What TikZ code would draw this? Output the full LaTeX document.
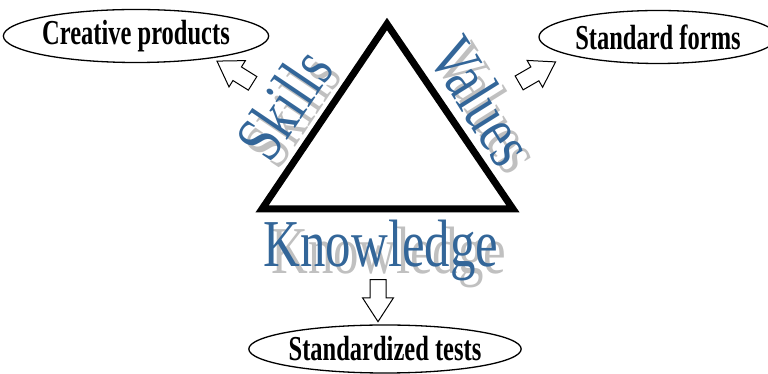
\documentclass[tikz,border=0pt]{standalone}
\usepackage{fontspec}
\setmainfont{Liberation Serif}
\newfontfamily\wordfont[FakeStretch=0.76]{Liberation Serif}
\newfontfamily\ovalfont[FakeStretch=0.7]{Liberation Serif}
\usetikzlibrary{shapes.geometric,shapes.arrows}
\definecolor{wordblue}{RGB}{51,102,153}
\definecolor{wordgray}{RGB}{192,192,192}
\tikzset{
  oval/.style={draw,ellipse,line width=1.3,inner sep=0pt,font=\ovalfont\bfseries\fontsize{35}{35}\selectfont},
  wordtext/.style={text=wordblue,inner sep=0pt,font=\wordfont\fontsize{67}{67}\selectfont},
  wordshadow/.style={wordtext,text=wordgray,xshift=8,yshift=-7},
  blockarrow/.style={draw,fill=white,single arrow,line width=1,inner sep=0pt,inner ysep=7.5,minimum height=42,single arrow head extend=7.5,single arrow tip angle=66}
}
\newcommand\wordart[4]{%
  \node[wordshadow,rotate=#3] at (#2) {#4};
  \node[wordtext,rotate=#3] (#1) at (#2) {#4};}
\begin{document}
\begin{tikzpicture}[x=1pt,y=1pt,line join=miter]
	\useasboundingbox (0,0) rectangle (768,374);
	\wordart{skills}{284,270}{56}{Skills}
	\wordart{values}{482,273}{-58}{Values}
	\wordart{knowledge}{381,124}{0}{Knowledge}
	\coordinate (left) at (262,165);
	\coordinate (right) at (513,165);
	\coordinate (top) at (387,350);
	\draw[line width=7] (left)--(right)--(top)--cycle;
	\node[oval,minimum width=250,minimum height=53] (creative) at (136,338) {Creative products};
	\node[oval,minimum width=238,minimum height=53] (forms) at (658,337) {Standard forms};
	\node[oval,minimum width=250,minimum height=48] (tests) at (385,25) {Standardized tests};
	\node[blockarrow,rotate=148] (toCreative) at (240,298.5) {};
	\node[blockarrow,rotate=30] (toForms) at (532,298.5) {};
	\node[blockarrow,rotate=-90] (toTests) at (378,79.5) {};
\end{tikzpicture}
\end{document}
